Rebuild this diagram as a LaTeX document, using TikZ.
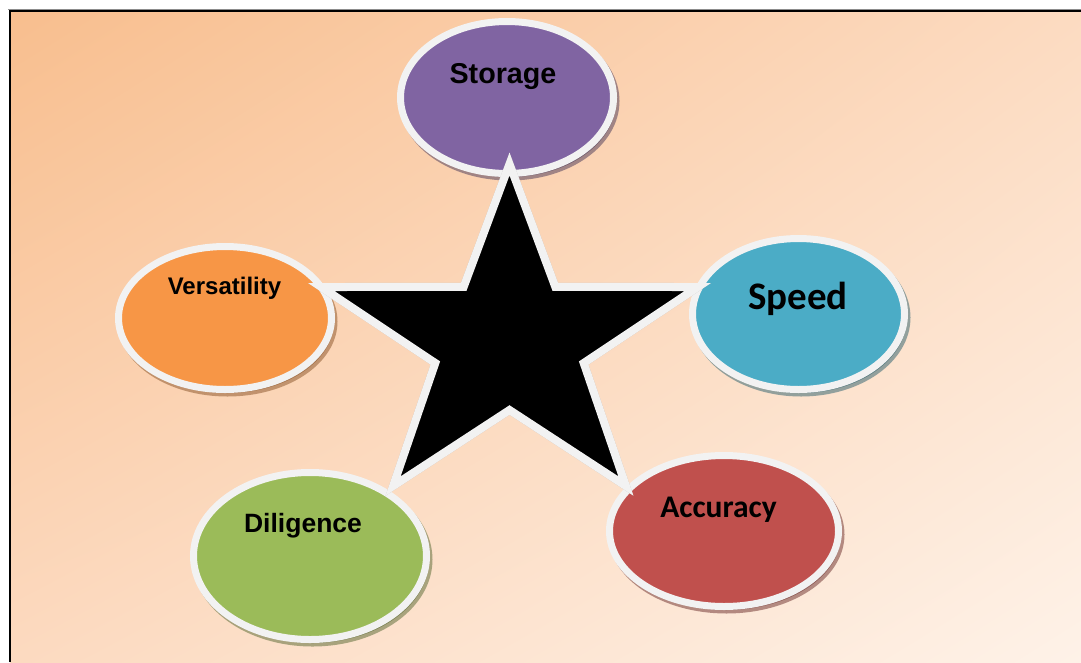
\documentclass[tikz,border=0pt]{standalone}
\usepackage{fontspec}
\setmainfont{Liberation Sans}
\newfontfamily\calibrifont{Carlito}
\usetikzlibrary{shapes.geometric,shadings}
\definecolor{bgUL}{HTML}{F8BE8E}
\definecolor{bgUR}{HTML}{FCDBC1}
\definecolor{bgLL}{HTML}{FCDAC0}
\definecolor{bgLR}{HTML}{FEF2E8}
\definecolor{rim}{HTML}{F2F2F2}
\definecolor{cStorage}{HTML}{8064A2}
\definecolor{cVers}{HTML}{F79646}
\definecolor{cSpeed}{HTML}{4BACC6}
\definecolor{cDil}{HTML}{9BBB59}
\definecolor{cAcc}{HTML}{C0504D}
\begin{document}
\begin{tikzpicture}[x=1pt,y=-1pt,
  bubble/.style={ellipse, draw=rim, line width=7pt, inner sep=0pt, outer sep=0pt},
  bubshadow/.style={ellipse, line width=7pt, inner sep=0pt, outer sep=0pt, opacity=0.5, draw=#1!55!black, fill=#1!55!black},
  lbl/.style={anchor=base, inner sep=0pt, outer sep=0pt, text=black},
  starshape/.style={fill=black, draw=rim, line width=8pt, line join=miter, miter limit=12},
  starshadow/.style={fill=black!60, draw=black!45, line width=8pt, line join=miter, miter limit=12, opacity=0.45}]
\useasboundingbox (0,0) rectangle (1081,662);
\fill[white] (0,0) rectangle (1081,662);
\shade[upper left=bgUL, upper right=bgUR, lower left=bgLL, lower right=bgLR] (10,11) rectangle (1081,662);
\draw[black!45, line width=1pt] (8,9.5) -- (1081,9.5);
\draw[black, line width=2pt] (9.5,662) -- (9.5,11) -- (1081,11);

% shadows of bubbles
\node[bubshadow=cStorage, minimum width=213pt, minimum height=152pt] (shS) at (509.5,101) {};
\node[bubshadow=cVers, minimum width=213pt, minimum height=143pt] (shV) at (227.5,321.5) {};
\node[bubshadow=cSpeed, minimum width=212pt, minimum height=151pt] (shP) at (801,317.5) {};
\node[bubshadow=cDil, minimum width=233pt, minimum height=167pt] (shD) at (312.5,559.5) {};
\node[bubshadow=cAcc, minimum width=229pt, minimum height=151pt] (shA) at (726.5,534.5) {};

% bubbles
\node[bubble, fill=cStorage, minimum width=213pt, minimum height=152pt] (storage) at (507,97.5) {};
\node[bubble, fill=cVers, minimum width=213pt, minimum height=143pt] (vers) at (225,318) {};
\node[bubble, fill=cSpeed, minimum width=212pt, minimum height=151pt] (speed) at (798.5,314) {};
\node[bubble, fill=cDil, minimum width=233pt, minimum height=167pt] (dil) at (310,556) {};
\node[bubble, fill=cAcc, minimum width=229pt, minimum height=151pt] (acc) at (724,531) {};

% star
\foreach \n/\a in {o1/90,o2/162,o3/234,o4/306,o5/18}
  \coordinate (\n) at ({509.5+198*cos(\a)},{342-178*sin(\a)});
\foreach \n/\a in {i1/126,i2/198,i3/270,i4/342,i5/54}
  \coordinate (\n) at ({509.5+78*cos(\a)},{342-68*sin(\a)});
\begin{scope}[shift={(2.5,3.5)}]
\path[starshadow] (o1) -- (i1) -- (o2) -- (i2) -- (o3) -- (i3) -- (o4) -- (i4) -- (o5) -- (i5) -- cycle;
\end{scope}
\path[starshape] (o1) -- (i1) -- (o2) -- (i2) -- (o3) -- (i3) -- (o4) -- (i4) -- (o5) -- (i5) -- cycle;

% labels
\node[lbl, font=\fontsize{28.7}{30}\selectfont\bfseries] (tS) at (503,83) {Storage};
\node[lbl, font=\fontsize{24}{26}\selectfont\bfseries] (tV) at (224.5,294) {Versatility};
\node[lbl, font=\calibrifont\fontsize{39}{41}\selectfont\bfseries] (tP) at (798,309) {Speed};
\node[lbl, font=\fontsize{26.5}{28}\selectfont\bfseries] (tD) at (303,532) {Diligence};
\node[lbl, font=\calibrifont\fontsize{31.5}{33}\selectfont\bfseries] (tA) at (718.5,517) {Accuracy};
\end{tikzpicture}
\end{document}
